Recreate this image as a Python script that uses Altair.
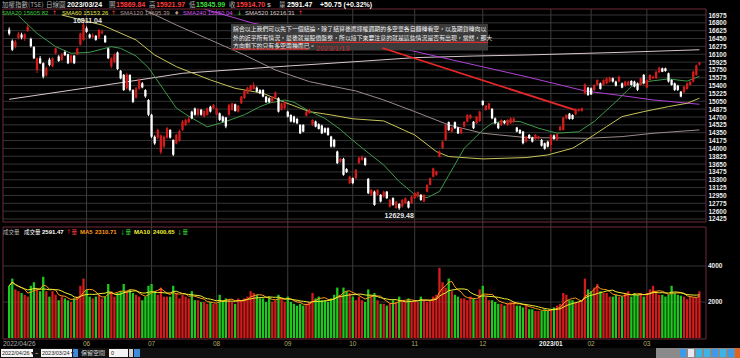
import altair as alt
import pandas as pd

# ---------------- data ----------------
opens = [16650, 16400, 16270, 16460,
         16540, 16450, 16620, 16440, 16260, 15750, 16010, 15900, 15630, 15980, 15830, 16120, 16050, 15970, 16150, 16100, 15920, 16070, 16090, 16310, 16420,
         16680, 16540, 16490, 16510, 16470, 16570, 16510, 16230, 15830, 15930, 16140, 15730, 15640, 15340, 15640, 15300, 15130, 15330, 15450, 15300, 15080,
         14750, 14260, 14240, 13910, 14040, 14240, 14410, 14190, 14110, 14170, 14410, 14520, 14580, 14820, 14890, 14750, 14860, 14710, 14750, 14930, 14895,
         14750, 14780, 14710, 14690, 14750, 14860, 14985, 14820, 15005, 15120, 15230, 15300, 15325, 15355, 15300, 15300, 15155, 15120, 15045, 15130, 15120, 14860, 14895,
         14820, 14745, 14710, 14655, 14525, 14525, 14730, 14785, 14525, 14600, 14540, 14510, 14450, 14450, 14265, 14190, 13930, 13705, 13765, 13540, 13225,
         13335, 13335, 13670, 13745, 13780, 13320, 12965, 13035, 12965, 12965, 12925, 13035, 12705, 12890, 12670, 12760, 12705, 12775, 12815, 12775,
         12890, 12925, 12965, 12815, 13035, 13185, 13370, 13410, 13815, 14005, 14190, 14585, 14375, 14585, 14465, 14335, 14485, 14595, 14670, 14595, 14560, 14610,
         15060, 14855, 14880, 14880, 14670, 14560, 14525, 14610, 14525, 14560, 14585, 14465, 14410, 14375, 14150, 14300, 14240, 14210, 14225, 14190, 14115, 14150,
         14075, 14290, 14190, 14410, 14410, 14670, 14775, 14745, 14760, 14835, 14835, 15230, 15355,
         15340, 15300, 15415, 15450, 15415, 15450, 15490, 15565, 15490, 15490, 15450, 15400, 15415, 15505, 15490, 15450, 15415, 15640,
         15355, 15525, 15565, 15565, 15700, 15785, 15785, 15675, 15525, 15450, 15400, 15265, 15250, 15325, 15415, 15490, 15640, 15869.84]
highs = [16700, 16430, 16420, 16600,
         16580, 16570, 16760, 16470, 16280, 16030, 16060, 15920, 15830, 16020, 16030, 16250, 16080, 16130, 16180, 16110, 16090, 16080, 16250, 16580, 16811.04,
         16720, 16560, 16570, 16530, 16660, 16650, 16530, 16240, 16030, 16120, 16160, 15750, 15660, 15680, 15650, 15320, 15370, 15560, 15480, 15320, 15100,
         14770, 14290, 14440, 14310, 14290, 14480, 14430, 14200, 14320, 14420, 14630, 14660, 14700, 14840, 14910, 14900, 14880, 14850, 14910, 14950, 14990,
         14910, 14800, 14730, 14700, 14990, 15020, 15000, 14970, 15170, 15300, 15370, 15420, 15474, 15380, 15320, 15320, 15170, 15140, 15170, 15270, 15140, 15020, 15050,
         14840, 14760, 14730, 14680, 14540, 14540, 14840, 14880, 14650, 14620, 14560, 14530, 14470, 14470, 14280, 14210, 13950, 13790, 13790, 13560, 13390,
         13350, 13540, 13810, 13840, 13800, 13340, 13090, 13060, 13090, 12980, 13055, 13050, 12870, 12910, 12830, 12780, 12870, 12905, 12830, 12940,
         13020, 13040, 12980, 12980, 13200, 13350, 13570, 13500, 13950, 14170, 14540, 14600, 14480, 14600, 14480, 14470, 14610, 14760, 14760, 14610, 14720, 14840,
         15073, 14970, 15020, 14900, 14690, 14580, 14650, 14630, 14650, 14690, 14690, 14480, 14430, 14390, 14280, 14320, 14260, 14320, 14280, 14210, 14130, 14170,
         14320, 14310, 14330, 14500, 14700, 14760, 14790, 14760, 14890, 14890, 14910, 15450, 15370,
         15360, 15430, 15540, 15470, 15540, 15580, 15600, 15580, 15510, 15620, 15470, 15510, 15510, 15520, 15510, 15470, 15580, 15660,
         15540, 15650, 15620, 15730, 15820, 15800, 15800, 15690, 15540, 15470, 15420, 15280, 15390, 15470, 15500, 15730, 15870, 15921.97]
lows = [16520, 16170, 16230, 16430,
        16430, 16400, 16600, 16250, 15990, 15680, 15880, 15560, 15600, 15830, 15810, 16100, 15930, 15950, 16060, 15880, 15900, 15880, 16080, 16300, 16400,
        16580, 16450, 16460, 16400, 16440, 16540, 16350, 15990, 15790, 15900, 15750, 15540, 15280, 15310, 15270, 15010, 15110, 15310, 15340, 15130, 14720,
        14230, 14080, 14200, 13870, 14010, 14220, 14220, 13830, 14090, 14150, 14390, 14500, 14560, 14650, 14730, 14720, 14730, 14690, 14730, 14800, 14880,
        14730, 14610, 14580, 14450, 14730, 14840, 14820, 14800, 14990, 15100, 15210, 15280, 15310, 15250, 15210, 15140, 15010, 15010, 15020, 15110, 14800, 14840, 14870,
        14690, 14580, 14560, 14540, 14320, 14360, 14710, 14770, 14500, 14470, 14420, 14320, 14340, 14280, 14020, 14020, 13650, 13680, 13390, 13450, 13200,
        13200, 13310, 13650, 13720, 13610, 12980, 12940, 12720, 12940, 12795, 12900, 12870, 12680, 12720, 12650, 12629.48, 12680, 12760, 12660, 12760,
        12870, 12910, 12830, 12800, 13020, 13170, 13350, 13390, 13800, 13990, 14170, 14390, 14350, 14430, 14320, 14320, 14470, 14580, 14650, 14430, 14540, 14590,
        14950, 14840, 14860, 14650, 14540, 14430, 14500, 14540, 14500, 14540, 14570, 14360, 14320, 14090, 14130, 14210, 14130, 14190, 14200, 14040, 13970, 14020,
        13930, 14190, 14170, 14390, 14400, 14650, 14640, 14640, 14740, 14820, 14820, 15200, 15170,
        15190, 15280, 15400, 15310, 15400, 15430, 15470, 15470, 15380, 15470, 15340, 15380, 15400, 15400, 15360, 15280, 15400, 15430,
        15340, 15510, 15550, 15550, 15680, 15700, 15710, 15470, 15400, 15280, 15280, 15140, 15230, 15310, 15400, 15470, 15620, 15845.99]
closes = [16560, 16200, 16380, 16560,
          16470, 16540, 16710, 16280, 16010, 16010, 15900, 15600, 15790, 15860, 16010, 16230, 15950, 16100, 16080, 15900, 16070, 15900, 16230, 16560, 16760,
          16600, 16470, 16520, 16420, 16640, 16610, 16370, 16010, 16010, 16100, 15770, 15560, 15300, 15650, 15300, 15040, 15340, 15530, 15360, 15160, 14750,
          14260, 14110, 14410, 14290, 14260, 14450, 14240, 13860, 14300, 14390, 14600, 14635, 14660, 14670, 14750, 14880, 14750, 14835, 14895, 14820, 14970,
          14895, 14635, 14600, 14490, 14970, 15005, 14835, 14955, 15155, 15280, 15355, 15400, 15415, 15265, 15230, 15155, 15030, 15030, 15155, 15250, 14820, 15005, 15030,
          14710, 14600, 14585, 14560, 14335, 14375, 14820, 14855, 14635, 14485, 14435, 14335, 14360, 14300, 14040, 14040, 13670, 13765, 13410, 13470, 13370,
          13225, 13520, 13795, 13815, 13630, 13000, 13075, 12740, 13075, 12815, 13035, 12890, 12850, 12740, 12815, 12665, 12850, 12890, 12680, 12925,
          13000, 13020, 12850, 12965, 13185, 13335, 13555, 13485, 13930, 14150, 14520, 14410, 14465, 14450, 14335, 14450, 14595, 14745, 14745, 14450, 14710, 14820,
          14970, 14955, 15005, 14670, 14560, 14450, 14635, 14560, 14635, 14670, 14670, 14375, 14335, 14115, 14265, 14225, 14150, 14300, 14265, 14060, 13990, 14040,
          14300, 14210, 14315, 14485, 14690, 14745, 14655, 14655, 14880, 14870, 14895, 15430, 15190,
          15205, 15415, 15525, 15325, 15525, 15565, 15580, 15490, 15400, 15600, 15355, 15490, 15490, 15415, 15380, 15305, 15565, 15450,
          15525, 15640, 15600, 15710, 15800, 15710, 15725, 15490, 15415, 15305, 15305, 15155, 15380, 15450, 15490, 15710, 15850, 15914.70]
volumes = [2900, 3300, 2700, 2600,
           2500, 2400, 2300, 2900, 3100, 2700, 2600, 3400, 2600, 2300, 2600, 2400, 2100, 2300, 2200, 2100, 2000, 2200, 2300, 2900, 3300,
           2700, 2300, 2200, 2300, 2400, 2200, 2300, 3000, 2600, 2300, 2500, 2600, 3000, 2600, 2700, 2500, 2400, 2300, 2100, 2300, 2900,
           3000, 2600, 2400, 2800, 2300, 2300, 2300, 2900, 2500, 2200, 2400, 2300, 2200, 2600, 2100, 2100, 2000, 2000, 1900, 2000, 1900,
           1900, 2400, 2100, 2200, 2100, 2000, 1900, 2200, 2100, 2200, 2300, 2600, 2500, 2400, 2200, 2200, 2000, 2300, 2000, 2100, 2400, 2200, 2000,
           2300, 2000, 1900, 1800, 1900, 1800, 1900, 2000, 2500, 2200, 2300, 2100, 2100, 2000, 2200, 2400, 2800, 2400, 2800, 2600, 2500,
           2300, 2100, 2300, 2100, 2000, 2700, 2400, 2500, 2100, 1900, 1900, 1800, 1900, 2100, 2000, 2300, 2100, 2000, 2200, 2000,
           2100, 2000, 2300, 2100, 2000, 2100, 2300, 2400, 3900, 3100, 2800, 3300, 2600, 2400, 2300, 2200, 2200, 2100, 2300, 2200, 2100, 2700,
           2900, 2300, 2100, 2100, 2000, 1900, 1900, 1800, 1900, 2000, 2000, 1800, 1800, 1700, 1800, 1600, 1600, 1500, 1500, 1500, 1600, 1500,
           1600, 1700, 1800, 1900, 2500, 2400, 2100, 2100, 2000, 2000, 2100, 3300, 2700,
           2600, 2800, 3000, 2600, 2500, 2500, 2300, 2300, 2400, 2300, 2300, 2500, 2600, 2300, 2500, 2400, 2500, 2300,
           2500, 2700, 2900, 2600, 2400, 2400, 2300, 2400, 2900, 2500, 2400, 2353, 2300, 2150, 2300, 2250, 2262, 2591.47]

price_ticks = [12425, 12600, 12775, 12950, 13125, 13300, 13475, 13650, 13825, 14000, 14175, 14350, 14525, 14700,
               14875, 15050, 15225, 15400, 15575, 15750, 15925, 16100, 16275, 16450, 16625, 16800, 16975]
vol_ticks = [2000, 4000]
vol_tick_labels = ["2000", "4000"]
month_idx = [25, 46, 67, 90, 111, 131, 153, 175, 188, 206]
month_lab = ["06", "07", "08", "09", "10", "11", "12", "2023/01", "02", "03"]

sma20_i = [3, 9, 15, 20, 26, 33, 36, 41, 45, 50, 54, 57, 61, 64, 70, 76, 81, 84, 89, 92, 97, 102, 107, 111, 116, 121, 126, 131, 135, 139, 142, 147, 153, 156, 160, 165, 171, 177, 184, 189, 196, 201, 206, 213, 219, 223]
sma20_v = [16960, 16566, 16269, 16121, 16143, 16269, 16232, 16060, 15800, 15300, 14900, 14760, 14600, 14480, 14600, 14750, 14930, 15010, 15080, 15030, 14830, 14670, 14420, 14180, 13900, 13630, 13260, 12970, 12900, 13040, 13400, 14000, 14410, 14560, 14610, 14600, 14450, 14340, 14370, 14600, 15040, 15380, 15490, 15550, 15500, 15606]
sma60_i = [17, 30, 41, 47, 54, 65, 73, 82, 89, 97, 104, 111, 121, 131, 138, 142, 153, 167, 174, 182, 187, 193, 198, 205, 213, 219, 223]
sma60_v = [16975, 16752, 16418, 16083, 15823, 15526, 15340, 15229, 15028, 14820, 14746, 14660, 14612, 14300, 13929, 13817, 13765, 13795, 13854, 14003, 14211, 14486, 14709, 14820, 14932, 15006, 15120]
sma120_i = [44, 54, 65, 76, 86, 97, 112, 121, 131, 142, 153, 167, 187, 198, 208, 223]
sma120_v = [17080, 16752, 16418, 16083, 15749, 15489, 15281, 15080, 14820, 14523, 14337, 14241, 14226, 14263, 14337, 14412]
sma240_i = [63, 79, 129, 167, 186, 198, 208, 223]
sma240_v = [17109, 16789, 16195, 15600, 15281, 15177, 15080, 14984]
sma520_i = [0, 28, 56, 84, 112, 131, 150, 167, 198, 223]
sma520_v = [15095, 15380, 15675, 15810, 15935, 16024, 16060, 16083, 16143, 16200]

trend_i = [120.6, 182.7]
trend_v = [16239, 14857]

box_lines = [
    "綜合以上我們可以先下一個結論，除了結算後選擇權週期的多空單各自翻轉看空，以及期貨轉向以",
    "外的近乎所有情況，最後就是股價盤整，所以接下來要注意的就是這些情況是否有出現，當然，那大",
    "方向剩下的只有多空兩種而已。",
]

# ---------------- layout constants ----------------
W, H = 703, 329
LPAD, TPAD = 3, 9
RED = "#d41c1c"
GREEN = "#1ec81e"
MAROON = "#6e2a3a"

df = pd.DataFrame({"i": list(range(len(closes))), "o": opens, "h": highs, "l": lows, "c": closes, "v": volumes})
up = [c >= o for o, c in zip(opens, closes)]
df["ccol"] = [RED if u else "#ffffff" for u in up]
df["vcol"] = [RED if u else GREEN for u in up]

xs = alt.Scale(domain=[-0.38, 223.5], nice=False, zero=False)
ps = alt.Scale(domain=[12358, 17109], range=[213, 0], nice=False, zero=False)
vs = alt.Scale(domain=[0, 6167], range=[329, 218], nice=False, zero=False)

def X(f="i:Q"):
    return alt.X(f, scale=xs, axis=None)

layers = []

# pixel helpers (absolute page coordinates -> plot coordinates)
def rects(rows, filled=True):
    d = pd.DataFrame(rows, columns=["x", "x2", "y", "y2", "col"])
    d["x"] -= LPAD; d["x2"] -= LPAD; d["y"] -= TPAD; d["y2"] -= TPAD
    enc = dict(x=alt.X("x:Q", scale=None), x2="x2:Q", y=alt.Y("y:Q", scale=None), y2="y2:Q")
    if filled:
        return alt.Chart(d).mark_rect().encode(color=alt.Color("col:N", scale=None), **enc)
    return alt.Chart(d).mark_rect(fillOpacity=0, strokeWidth=1).encode(stroke=alt.Color("col:N", scale=None), **enc)

def lines(rows, width=1):
    d = pd.DataFrame(rows, columns=["x", "x2", "y", "y2", "col"])
    d["x"] -= LPAD; d["x2"] -= LPAD; d["y"] -= TPAD; d["y2"] -= TPAD
    return alt.Chart(d).mark_rule(strokeWidth=width).encode(
        x=alt.X("x:Q", scale=None), x2="x2:Q", y=alt.Y("y:Q", scale=None), y2="y2:Q",
        color=alt.Color("col:N", scale=None))

def texts(rows, size=6.5, weight="normal", font="Liberation Sans", align="left"):
    d = pd.DataFrame(rows, columns=["x", "y", "t", "col"])
    d["x"] -= LPAD; d["y"] -= TPAD
    return alt.Chart(d).mark_text(font=font, fontSize=size, fontWeight=weight, align=align, baseline="middle").encode(
        x=alt.X("x:Q", scale=None), y=alt.Y("y:Q", scale=None), text="t:N", color=alt.Color("col:N", scale=None))

# price grid + axis (through the price scale)
grid_df = pd.DataFrame({"p": price_ticks})
layers.append(alt.Chart(grid_df).mark_rule(color="#343434", strokeWidth=1).encode(
    y=alt.Y("p:Q", scale=ps, axis=alt.Axis(orient="right", values=price_ticks, format="d", grid=False, domain=False,
                                          ticks=False, labelPadding=2, labelColor="#eeeeee", labelFont="Liberation Sans",
                                          labelFontSize=6.5, labelFontWeight="bold", labelOverlap=False, labelBound=False,
                                          labelFlush=False, title=None)),
    x=alt.value(0), x2=alt.value(W)))

# volume grid
vg = pd.DataFrame({"v": vol_ticks, "t": vol_tick_labels})
layers.append(alt.Chart(vg).mark_rule(color="#343434", strokeWidth=1).encode(
    y=alt.Y("v:Q", scale=vs, axis=None), x=alt.value(0), x2=alt.value(W)))
layers.append(alt.Chart(vg).mark_text(font="Liberation Sans", fontSize=6.5, fontWeight="bold", color="#eeeeee",
                                      align="left", baseline="middle").encode(
    y=alt.Y("v:Q", scale=vs, axis=None), x=alt.value(W + 2), text="t:N"))

# month lines
mdf = pd.DataFrame({"m": month_idx, "lab": month_lab})
layers.append(alt.Chart(mdf).mark_rule(color="#3c3c3c", strokeWidth=1).encode(
    x=X("m:Q"), y=alt.value(0), y2=alt.value(H)))

# moving averages of price
for iv, vv, col in [(sma520_i, sma520_v, "#d8c6cc"), (sma240_i, sma240_v, "#b040d8"),
                    (sma120_i, sma120_v, "#9c8a8a"), (sma60_i, sma60_v, "#c8c45a"),
                    (sma20_i, sma20_v, "#3d9a4a")]:
    d = pd.DataFrame({"i": iv, "p": vv})
    layers.append(alt.Chart(d).mark_line(color=col, strokeWidth=1, clip=True).encode(
        x=X(), y=alt.Y("p:Q", scale=ps, axis=None)))

# candles
layers.append(alt.Chart(df).mark_rule(strokeWidth=1).encode(
    x=X(), y=alt.Y("l:Q", scale=ps, axis=None), y2="h:Q", color=alt.Color("ccol:N", scale=None)))
layers.append(alt.Chart(df).mark_bar(size=2.3, orient="vertical").encode(
    x=X(), y=alt.Y("o:Q", scale=ps, axis=None), y2="c:Q", color=alt.Color("ccol:N", scale=None)))

# volume bars + MA5 / MA10
layers.append(alt.Chart(df).mark_bar(size=2.3, orient="vertical").encode(
    x=X(), y=alt.Y("v:Q", scale=vs, axis=None), color=alt.Color("vcol:N", scale=None)))
layers.append(alt.Chart(df).transform_window(ma="mean(v)", frame=[-4, 0], sort=[{"field": "i"}]).mark_line(
    color="#ff9a1a", strokeWidth=1).encode(x=X(), y=alt.Y("ma:Q", scale=vs, axis=None)))
layers.append(alt.Chart(df).transform_window(ma="mean(v)", frame=[-9, 0], sort=[{"field": "i"}]).mark_line(
    color="#f0f032", strokeWidth=1).encode(x=X(), y=alt.Y("ma:Q", scale=vs, axis=None)))

# high / low labels
hl = pd.DataFrame({"i": [24, 126], "p": [16811.04, 12629.48], "t": ["16811.04", "12629.48"]})
layers.append(alt.Chart(hl.iloc[[0]]).mark_text(font="Liberation Sans", fontSize=7, fontWeight="bold", color="#e8e8e8",
                                                 dx=4, dy=-1, baseline="middle").encode(
    x=X(), y=alt.Y("p:Q", scale=ps, axis=None), text="t:N"))
layers.append(alt.Chart(hl.iloc[[1]]).mark_text(font="Liberation Sans", fontSize=7, fontWeight="bold", color="#e8e8e8",
                                                 dy=6, baseline="middle").encode(
    x=X(), y=alt.Y("p:Q", scale=ps, axis=None), text="t:N"))

# annotation box
layers.append(rects([(231, 488, 24, 50.5, "#3b3b3b")]))
layers.append(texts([(233, 29.3, box_lines[0], "#f2f2f2"), (233, 37.6, box_lines[1], "#f2f2f2"),
                     (233, 45.8, box_lines[2], "#f2f2f2")], size=5.9, font="Noto Sans CJK TC"))
layers.append(lines([(276, 488, 42.4, 42.4, "#d42a2a"), (232, 309, 49.2, 49.2, "#d42a2a")], width=1.3))
layers.append(texts([(316, 48.6, "2023/1/13", "#c03030")], size=7.5))

# red trend line
tdf = pd.DataFrame({"i": trend_i, "p": trend_v})
layers.append(alt.Chart(tdf).mark_line(color="#e82828", strokeWidth=1.8).encode(
    x=X(), y=alt.Y("p:Q", scale=ps, axis=None)))

# pane frames
layers.append(rects([(3, 706, 9, 222, MAROON), (3, 706, 227, 339, MAROON)], filled=False))

# header row 1
G = "#b4b4b4"
layers.append(texts([(2, 4.5, "加權指數(TSE)", G), (46, 4.5, "日線圖", G), (109, 4.5, "開", G), (149, 4.5, "高", G),
                     (189, 4.5, "低", G), (229, 4.5, "收", G), (279, 4.5, "量", G)], size=6.5, font="Noto Sans CJK TC"))
layers.append(texts([(67, 4.5, "2023/03/24", "#ffffff"), (116, 4.5, "15869.84", "#ff3c3c"), (156, 4.5, "15921.97", "#ff3c3c"),
                     (196, 4.5, "15845.99", "#3cdc3c"), (236, 4.5, "15914.70", "#ff3c3c"), (267, 4.5, "s", G),
                     (287, 4.5, "2591.47", "#ffffff"), (320, 4.5, "+50.75 (+0.32%)", "#ffffff")], size=7, weight="bold"))
# header row 2 (moving averages)
layers.append(texts([(2, 12.5, "SMA20 15605.82", "#3cc83c"), (62, 12.5, "SMA60 15153.26", "#e6e650"),
                     (120, 12.5, "SMA120 14695.39", "#b49696"), (183, 12.5, "SMA240 15050.04", "#d250f0"),
                     (245, 12.5, "SMA520 16216.31", "#dcc8c8")], size=6))
layers.append(texts([(52, 12.5, "↑", "#ff3c3c"), (111, 12.5, "↑", "#ff3c3c"), (174, 12.5, "♦", "#b49696"),
                     (237, 12.5, "↓", "#3cdc3c"), (298, 12.5, "↑", "#ff3c3c")], size=6, font="DejaVu Sans"))
# volume header
layers.append(texts([(3, 232, "成交量", G), (24, 232, "成交量", "#ffffff")], size=5.5, font="Noto Sans CJK TC"))
layers.append(texts([(66, 232, "↑量", "#ff3c3c"), (120, 232, "↓量", "#3cdc3c"), (177, 232, "↓量", "#3cdc3c")],
                    size=5.5, font="Noto Sans CJK TC"))
layers.append(texts([(42, 232, "2591.47", "#ffffff"), (80, 232, "MA5", "#ff9a1a"), (95, 232, "2310.71", "#ff9a1a"),
                     (134, 232, "MA10", "#f0f032"), (153, 232, "2400.65", "#f0f032")], size=6, weight="bold"))

# month labels (x axis)
reg = mdf[mdf["lab"] != "2023/01"]
layers.append(alt.Chart(reg).mark_text(font="Liberation Sans", fontSize=6.5, color="#b4aa6a", baseline="middle").encode(
    x=X("m:Q"), y=alt.value(335), text="lab:N"))
layers.append(alt.Chart(mdf[mdf["lab"] == "2023/01"]).mark_text(font="Liberation Sans", fontSize=6.5, fontWeight="bold",
                                                              color="#f0f0f0", baseline="middle").encode(
    x=X("m:Q"), y=alt.value(335), text="lab:N"))
layers.append(texts([(3, 344, "2022/04/26", "#aaaaaa")], size=6.5))

# bottom toolbar
layers.append(rects([(0, 740, 348, 358, "#101010"), (1, 33, 349, 357, "#f4f4f4"), (41, 72, 349, 357, "#f4f4f4"),
                     (73, 78, 349, 357, "#3c8ad8"), (109, 128, 349, 357, "#f4f4f4"), (129, 133, 349, 357, "#d0d0d0"),
                     (134, 140, 349, 357, "#3c8ad8"), (656, 740, 348, 358, "#8a8a8a"),
                     (680, 686, 349, 357, "#3c9ae8"), (688, 694, 349, 357, "#e8e8f0"), (696, 702, 349, 357, "#3cb4e8"),
                     (704, 710, 349, 357, "#3cb4e8"), (712, 718, 349, 357, "#3c9ae8"), (720, 726, 349, 357, "#3cb4e8"),
                     (728, 734, 349, 357, "#3c9ae8"), (735, 740, 348, 358, "#e06420")]))
layers.append(texts([(2, 353, "2022/04/26 ▾", "#222222"), (35, 353, "~", "#dddddd"), (42, 353, "2023/03/24 ▾", "#222222"),
                     (111, 353, "0", "#222222")], size=5.5))
layers.append(texts([(81, 353, "保留空間", "#dddddd")], size=6, font="Noto Sans CJK TC"))

chart = alt.layer(*layers).resolve_scale(y="independent").properties(
    width=W, height=H,
    padding={"left": LPAD, "top": TPAD, "right": 740 - LPAD - W, "bottom": 358 - TPAD - H},
    autosize=alt.AutoSizeParams(type="none"),
    background="#000000",
).configure_view(stroke=None, fill="#000000")

chart.save("out.html", embed_options={"renderer": "svg", "actions": False})
